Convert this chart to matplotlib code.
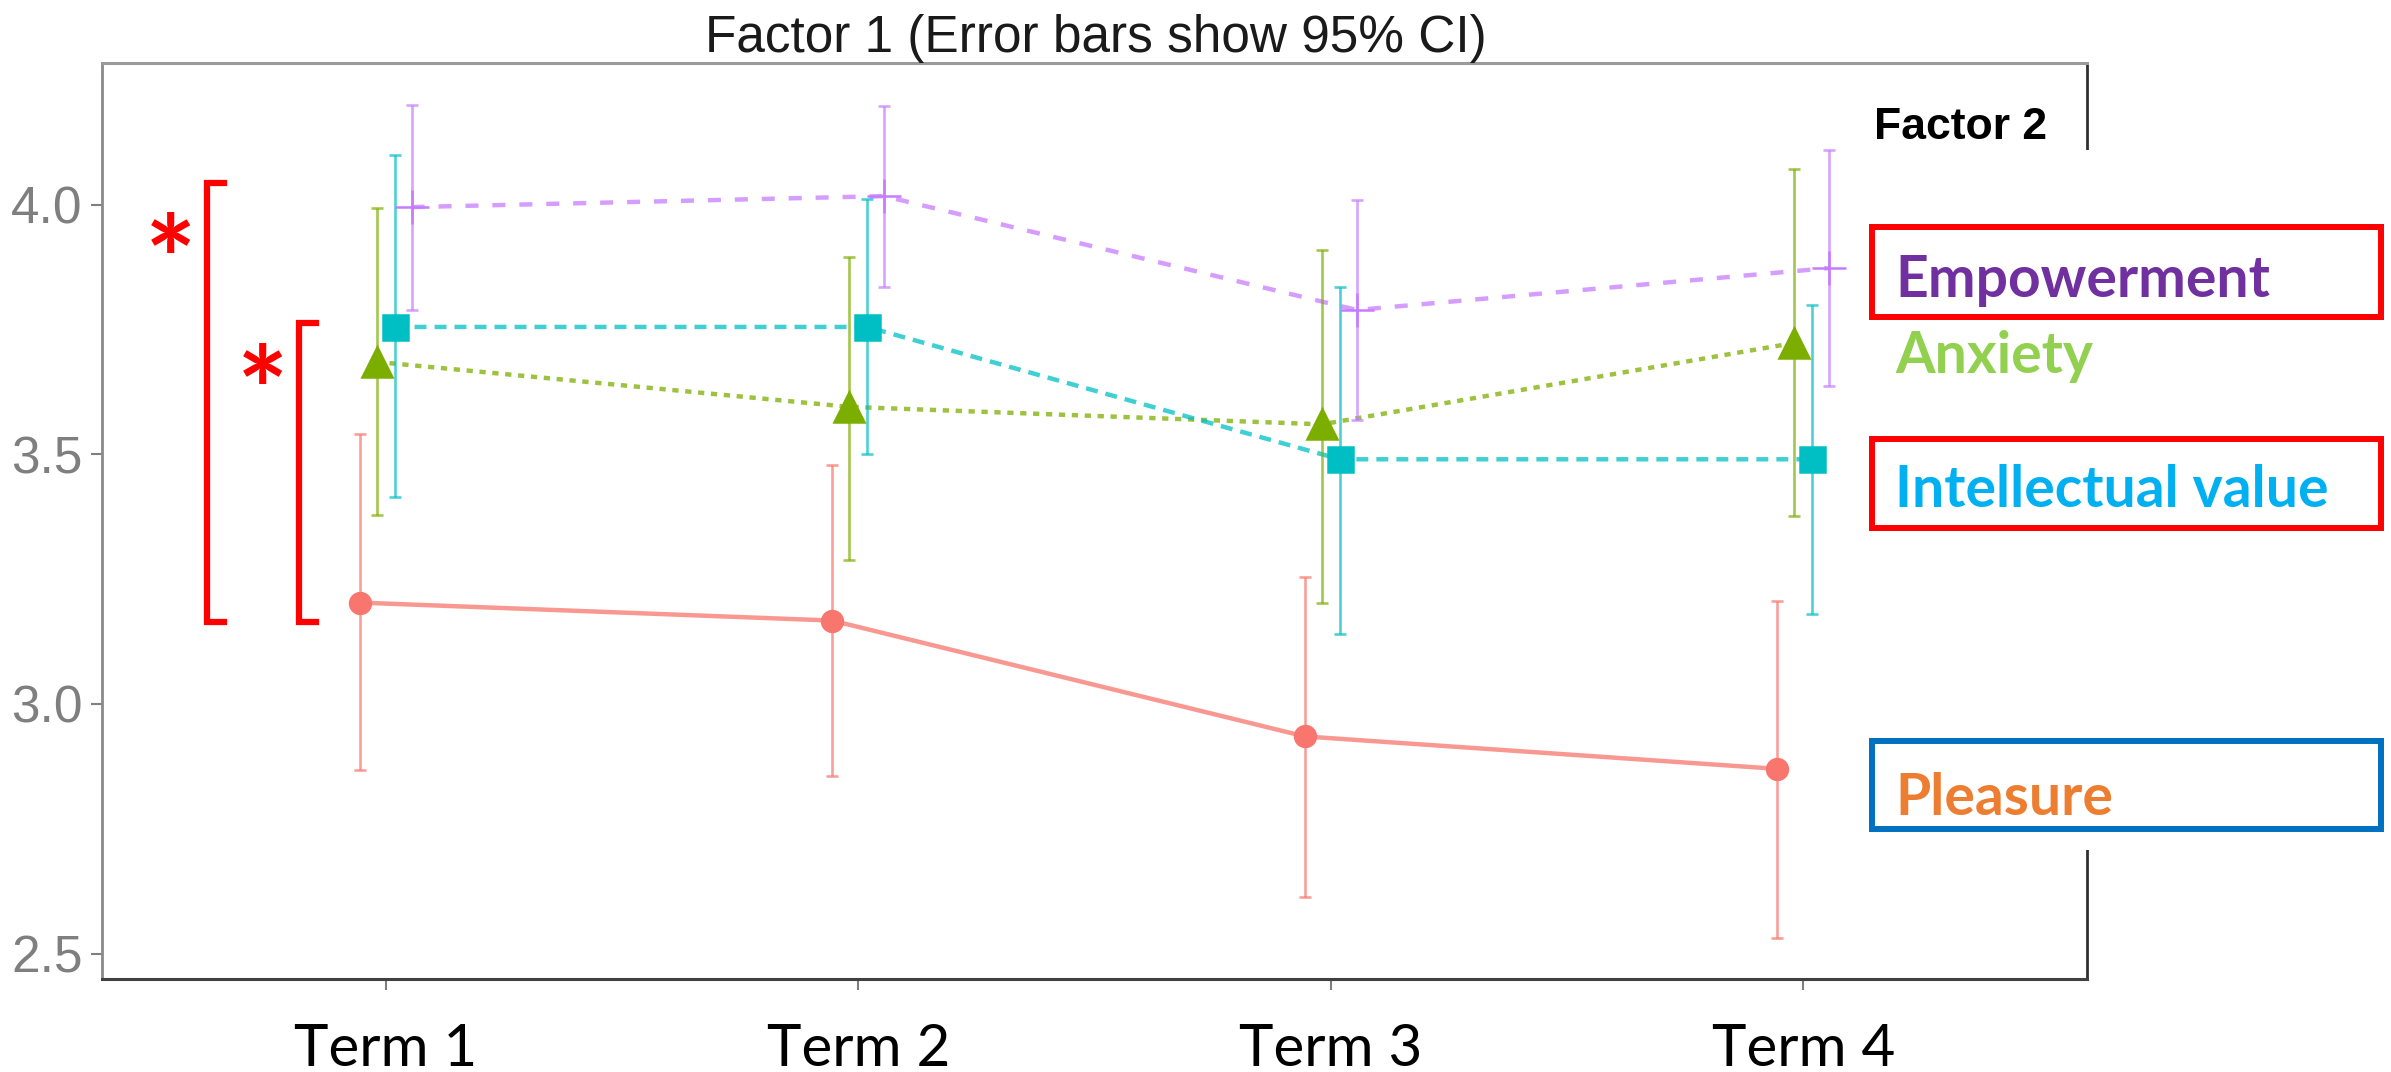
import matplotlib.pyplot as plt
from matplotlib.patches import Rectangle
from matplotlib.lines import Line2D
import numpy as np

plt.rcParams['lines.scale_dashes'] = False

terms = ["Term 1", "Term 2", "Term 3", "Term 4"]
y_ticks = [2.5, 3.0, 3.5, 4.0]

# means and 95% CI bounds
pleasure_mean = [3.203, 3.167, 2.935, 2.870]
pleasure_lo = [2.868, 2.855, 2.614, 2.532]
pleasure_hi = [3.540, 3.478, 3.255, 3.207]

anxiety_mean = [3.685, 3.595, 3.560, 3.723]
anxiety_lo = [3.378, 3.289, 3.203, 3.376]
anxiety_hi = [3.993, 3.896, 3.910, 4.072]

intellectual_mean = [3.755, 3.755, 3.490, 3.490]
intellectual_lo = [3.414, 3.500, 3.141, 3.180]
intellectual_hi = [4.099, 4.012, 3.836, 3.798]

empowerment_mean = [3.995, 4.017, 3.789, 3.873]
empowerment_lo = [3.789, 3.836, 3.569, 3.636]
empowerment_hi = [4.200, 4.197, 4.010, 4.110]

W, H = 2391, 1072
NARROW = ['Liberation Sans Narrow', 'Liberation Sans', 'DejaVu Sans']
LATO = ['Lato', 'DejaVu Sans']


def px(x, y):
    return x / W, 1 - y / H


fig = plt.figure(figsize=(W / 100, H / 100), dpi=100)
ax = fig.add_axes([102 / W, 1 - 978.6 / H, (2087 - 102) / W, (978.6 - 63.3) / H])

styles = [
    # mean, lo, hi, dodge, colour, marker, size, linestyle
    (pleasure_mean, pleasure_lo, pleasure_hi, -0.055, '#F8766D', 'o', 15, '-'),
    (anxiety_mean, anxiety_lo, anxiety_hi, -0.019, '#7CAE00', '^', 21, (0, (4.5, 4.8))),
    (intellectual_mean, intellectual_lo, intellectual_hi, 0.019, '#00BFC4', 's', 18, (0, (8.6, 5.8))),
    (empowerment_mean, empowerment_lo, empowerment_hi, 0.055, '#C77CFF', '+', 24, (0, (9.4, 10))),
]

base_x = np.arange(1, len(terms) + 1)
for mean, lo, hi, dodge, col, marker, ms, ls in styles:
    mean = np.array(mean)
    x = base_x + dodge
    ax.plot(x, mean, color=col, lw=3.2, ls=ls, alpha=0.75, zorder=2,
            solid_capstyle='butt', dash_capstyle='butt')
    ax.errorbar(x, mean, yerr=[mean - np.array(lo), np.array(hi) - mean], fmt='none',
                ecolor=col, elinewidth=1.9, capsize=4.5, capthick=1.9, alpha=0.7, zorder=3)
    ax.plot(x, mean, ls='none', marker=marker, ms=ms, color=col, mew=1.8, zorder=4)

ax.set_xlim(0.4, 4.6)
ax.set_ylim(2.45, 4.283)
ax.set_xticks(base_x)
ax.set_xticklabels(terms, fontsize=42, family=LATO, color='black')
ax.set_yticks(y_ticks)
ax.set_yticklabels([f"{v:.1f}" for v in y_ticks], fontsize=37, family=NARROW, color='#7f7f7f')
ax.tick_params(axis='x', length=8, width=1.5, color='#7f7f7f', pad=24)
ax.tick_params(axis='y', length=8, width=1.5, color='#7f7f7f', pad=6)

ax.spines['top'].set_color('#9a9a9a')
ax.spines['top'].set_linewidth(2.2)
ax.spines['left'].set_color('#8a8a8a')
ax.spines['left'].set_linewidth(2)
ax.spines['bottom'].set_color('#404040')
ax.spines['bottom'].set_linewidth(2.2)
ax.spines['right'].set_color('#303030')
ax.spines['right'].set_linewidth(2)

fig.text(*px(1096, 52), "Factor 1 (Error bars show 95% CI)", ha='center', va='baseline',
         fontsize=37, family=NARROW, color='#1a1a1a')
fig.text(*px(2047, 139), "Factor 2", ha='right', va='baseline',
         fontsize=32, family=NARROW, weight='bold', color='black')

# white panel pasted over the right edge, holding the hand-made legend
x0, y0 = px(1852, 850)
fig.add_artist(Rectangle((x0, y0), 1 - x0, 700 / H, transform=fig.transFigure,
                         facecolor='white', edgecolor='none', zorder=5))

legend_items = [
    ("Empowerment", '#7030A0', 297, '#FF0000', (227, 317)),
    ("Anxiety", '#92D050', 373, None, None),
    ("Intellectual value", '#00B0F0', 507, '#FF0000', (439, 528)),
    ("Pleasure", '#ED7D31', 815, '#0070C0', (741, 829)),
]
for label, tcol, base, bcol, box in legend_items:
    fig.text(*px(1895, base), label, ha='left', va='baseline', fontsize=41,
             family=LATO, weight='bold', color=tcol, zorder=7)
    if bcol:
        bx, by = px(1872, box[1])
        fig.add_artist(Rectangle((bx, by), (2381 - 1872) / W, (box[1] - box[0]) / H,
                                 transform=fig.transFigure, facecolor='none',
                                 edgecolor=bcol, lw=4.3, zorder=6))

# significance brackets and stars
for (xv, xs, ytop, ybot) in [(207, 224, 183, 622), (299, 316, 323, 622)]:
    pts = [px(xs, ytop), px(xv, ytop), px(xv, ybot), px(xs, ybot)]
    fig.add_artist(Line2D([p[0] for p in pts], [p[1] for p in pts], transform=fig.transFigure,
                          color='#FF0000', lw=4.5, solid_joinstyle='miter', zorder=6))
for sx, sy in [(171, 235), (263, 366)]:
    fig.text(*px(sx, sy + 69), "*", ha='center', va='baseline', fontsize=87,
             family=LATO, weight='bold', color='#FF0000', zorder=7)

fig.savefig("out.png", dpi=100, facecolor='white')
